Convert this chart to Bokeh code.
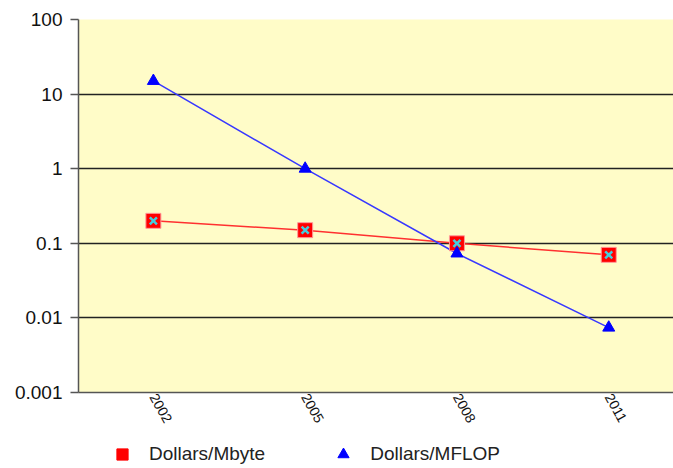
from bokeh.plotting import figure
from bokeh.layouts import column
from bokeh.models import FixedTicker, Legend, LegendItem, Range1d
from bokeh.embed import file_html
from bokeh.resources import INLINE

years = [2002, 2005, 2008, 2011]
year_labels = ["2002", "2005", "2008", "2011"]
dollars_per_mbyte = [0.2, 0.15, 0.1, 0.07]
dollars_per_mflop = [15, 1, 0.073, 0.0074]
y_ticks = [0.001, 0.01, 0.1, 1, 10, 100]
y_tick_labels = ["0.001", "0.01", "0.1", "1", "10", "100"]
series_names = ["Dollars/Mbyte", "Dollars/MFLOP"]

FONT = "Liberation Sans"

p = figure(width=673, height=436, y_axis_type="log",
           x_range=Range1d(2000.52, 2012.28), y_range=Range1d(0.001, 100),
           output_backend="svg", toolbar_location=None,
           min_border_left=78, min_border_top=19, min_border_right=0, min_border_bottom=44)
p.background_fill_color = "#FFFCC8"
p.border_fill_color = "white"
p.outline_line_color = None

p.xgrid.grid_line_color = None
p.ygrid.grid_line_color = "#222222"
p.ygrid.grid_line_width = 1.4
p.ygrid.ticker = FixedTicker(ticks=y_ticks)

p.yaxis.ticker = FixedTicker(ticks=y_ticks)
p.yaxis.major_label_overrides = {t: l for t, l in zip(y_ticks, y_tick_labels)}
p.yaxis.minor_tick_line_color = None
p.yaxis.major_tick_in = 0
p.yaxis.major_tick_out = 8
p.yaxis.axis_line_color = "#555555"
p.yaxis.axis_line_width = 1.5
p.yaxis.major_tick_line_color = "#555555"
p.yaxis.major_tick_line_width = 1.5
p.yaxis.major_label_text_font = FONT
p.yaxis.major_label_text_font_size = "19px"
p.yaxis.major_label_text_color = "#111111"
p.yaxis.major_label_standoff = 8

p.xaxis.ticker = FixedTicker(ticks=years)
p.xaxis.major_label_overrides = {y: l for y, l in zip(years, year_labels)}
p.xaxis.major_tick_line_color = None
p.xaxis.major_tick_out = 0
p.xaxis.minor_tick_line_color = None
p.xaxis.axis_line_color = "#555555"
p.xaxis.axis_line_width = 1.5
p.xaxis.major_label_orientation = -1.06
p.xaxis.major_label_text_font = FONT
p.xaxis.major_label_text_font_size = "14px"
p.xaxis.major_label_text_color = "#111111"
p.xaxis.major_label_standoff = 2

p.line(years, dollars_per_mbyte, line_color="#FF3030", line_width=1.5)
p.line(years, dollars_per_mflop, line_color="#3838FF", line_width=1.5)

p.scatter(years, dollars_per_mbyte, marker="square", size=15,
          fill_color="#FF0000", line_color="#FF9A9A", line_width=1)
p.scatter(years, dollars_per_mbyte, marker="x", size=10,
          line_color="#44CCDD", line_width=2.5)
p.scatter(years, dollars_per_mflop, marker="triangle", size=12,
          fill_color="#0000FF", line_color="#0000FF")

# legend strip below the chart (its frame is aligned with the chart's frame;
# the key glyphs' data lie outside this strip's ranges, so only the legend shows)
q = figure(width=673, height=32, x_range=Range1d(0, 1), y_range=Range1d(0, 1),
           output_backend="svg", toolbar_location=None,
           x_axis_location=None, y_axis_location=None,
           min_border_left=0, min_border_right=0, min_border_top=0, min_border_bottom=0)
q.outline_line_color = None
q.grid.grid_line_color = None
q.background_fill_color = "white"
q.border_fill_color = "white"

sq_key = q.scatter(years, dollars_per_mbyte, marker="square",
                   fill_color="#FF0000", line_color="#FF0000")
tri_key = q.scatter(years, dollars_per_mflop, marker="triangle",
                    fill_color="#0000FF", line_color="#0000FF")

legend = Legend(items=[LegendItem(label=series_names[0], renderers=[sq_key]),
                       LegendItem(label=series_names[1], renderers=[tri_key])],
                orientation="horizontal", location=(30, 0),
                label_text_font=FONT, label_text_font_size="19px",
                label_text_color="#222222", label_height=28,
                border_line_color=None, background_fill_alpha=0,
                spacing=64, glyph_width=28, glyph_height=28, label_standoff=13,
                margin=0, padding=0)
q.add_layout(legend)

layout = column(p, q, spacing=0)
open("out.html", "w").write(file_html(layout, INLINE))
